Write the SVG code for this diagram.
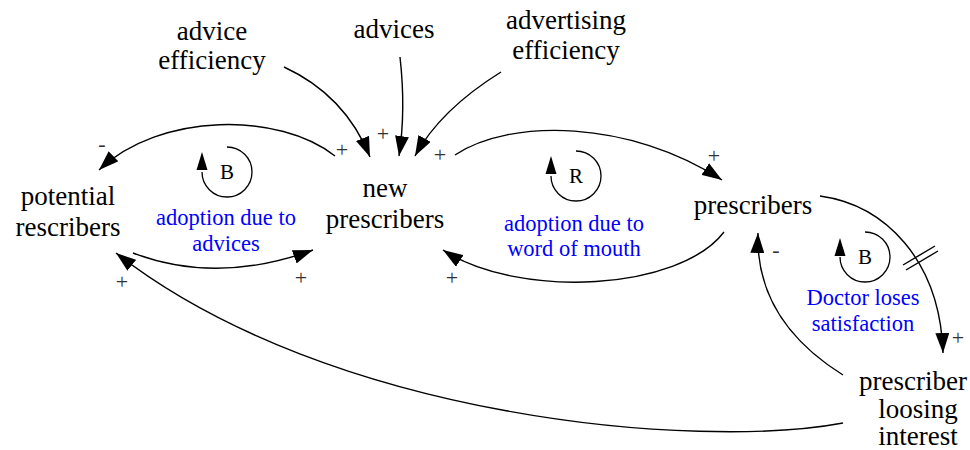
<svg xmlns="http://www.w3.org/2000/svg" width="970" height="450" viewBox="0 0 970 450">
  <style>
    text { font-family: "Liberation Serif", "DejaVu Serif", serif; text-anchor: middle; }
    .node { font-size: 27px; fill: #000; }
    .loop { font-size: 22.5px; fill: #0000ff; }
    .tag { font-size: 21px; fill: #000; }
    .pol { font-size: 22px; fill: #333; }
    .link { fill: none; stroke: #000; stroke-width: 1.4; marker-end: url(#head); }
    .plain { fill: none; stroke: #000; stroke-width: 1.4; }
    .cycle { fill: none; stroke: #000; stroke-width: 1.3; }
  </style>
  <defs>
    <marker id="head" viewBox="0 0 20 14" refX="20" refY="7" markerWidth="20" markerHeight="14" markerUnits="userSpaceOnUse" orient="auto">
      <path d="M0,0 L20,7 L0,14 z" fill="#000"/>
    </marker>
  </defs>
  <rect width="970" height="450" fill="#fff"/>

  <!-- variables -->
  <g id="advice-efficiency">
    <text class="node" x="212" y="40">advice</text>
    <text class="node" x="212" y="69">efficiency</text>
  </g>
  <g id="advices">
    <text class="node" x="394" y="38">advices</text>
  </g>
  <g id="advertising-efficiency">
    <text class="node" x="566" y="29">advertising</text>
    <text class="node" x="566" y="59">efficiency</text>
  </g>
  <g id="new-prescribers">
    <text class="node" x="385" y="197">new</text>
    <text class="node" x="385" y="228">prescribers</text>
  </g>
  <g id="potential-rescribers">
    <text class="node" x="68" y="205">potential</text>
    <text class="node" x="68" y="236">rescribers</text>
  </g>
  <g id="prescribers">
    <text class="node" x="753" y="214">prescribers</text>
  </g>
  <g id="prescriber-loosing-interest">
    <text class="node" x="913" y="390">prescriber</text>
    <text class="node" x="918" y="418">loosing</text>
    <text class="node" x="918" y="445">interest</text>
  </g>

  <!-- loop identifiers -->
  <g id="loop-advices">
    <path class="cycle" d="M227,147 A25,25 0 1 1 202,172"/>
    <path d="M202,152 L196.5,170 L207.5,170 z" fill="#000"/>
    <text class="tag" x="227" y="179">B</text>
    <text class="loop" x="226" y="225">adoption due to</text>
    <text class="loop" x="226" y="251">advices</text>
  </g>
  <g id="loop-word-of-mouth">
    <path class="cycle" d="M576,151 A25,25 0 1 1 551,176"/>
    <path d="M551,156 L545.5,174 L556.5,174 z" fill="#000"/>
    <text class="tag" x="576" y="183">R</text>
    <text class="loop" x="574" y="231">adoption due to</text>
    <text class="loop" x="574" y="256">word of mouth</text>
  </g>
  <g id="loop-satisfaction">
    <path class="cycle" d="M865,232 A25,25 0 1 1 840,257"/>
    <path d="M840,238 L834.5,256 L845.5,256 z" fill="#000"/>
    <text class="tag" x="865" y="264">B</text>
    <text class="loop" x="863" y="305">Doctor loses</text>
    <text class="loop" x="863" y="331">satisfaction</text>
  </g>

  <!-- causal links -->
  <g id="connectors">
    <path class="link" d="M284,67 Q345,95 370,157"/>
    <path class="link" d="M400,57 Q406,110 399,156"/>
    <path class="link" d="M501,72 Q440,110 415,156"/>
    <path class="link" d="M335,156 C280,112 160,112 99,170"/>
    <path class="link" d="M455,155 C510,118 630,120 722,180"/>
    <path class="link" d="M724,232 C680,290 520,300 443,250"/>
    <path class="link" d="M133,253 Q217,285 313,250"/>
    <path class="link" d="M843,423 C700,450 330,420 116,253"/>
    <path class="link" d="M820,196 C885,205 940,260 943,353"/>
    <path class="link" d="M843,375 Q755,320 758,233"/>
    <!-- delay mark -->
    <path class="plain" d="M903,265 L935,246 M906,270 L938,251"/>
  </g>

  <!-- link polarities -->
  <g id="polarities">
    <text class="pol" x="342" y="157">+</text>
    <text class="pol" x="383" y="141">+</text>
    <text class="pol" x="440" y="162">+</text>
    <text class="pol" x="714" y="163">+</text>
    <text class="pol" x="452" y="285">+</text>
    <text class="pol" x="301" y="285">+</text>
    <text class="pol" x="122" y="289">+</text>
    <text class="pol" x="958" y="345">+</text>
    <text class="pol" x="102" y="151">-</text>
    <text class="pol" x="776" y="257">-</text>
  </g>
</svg>
